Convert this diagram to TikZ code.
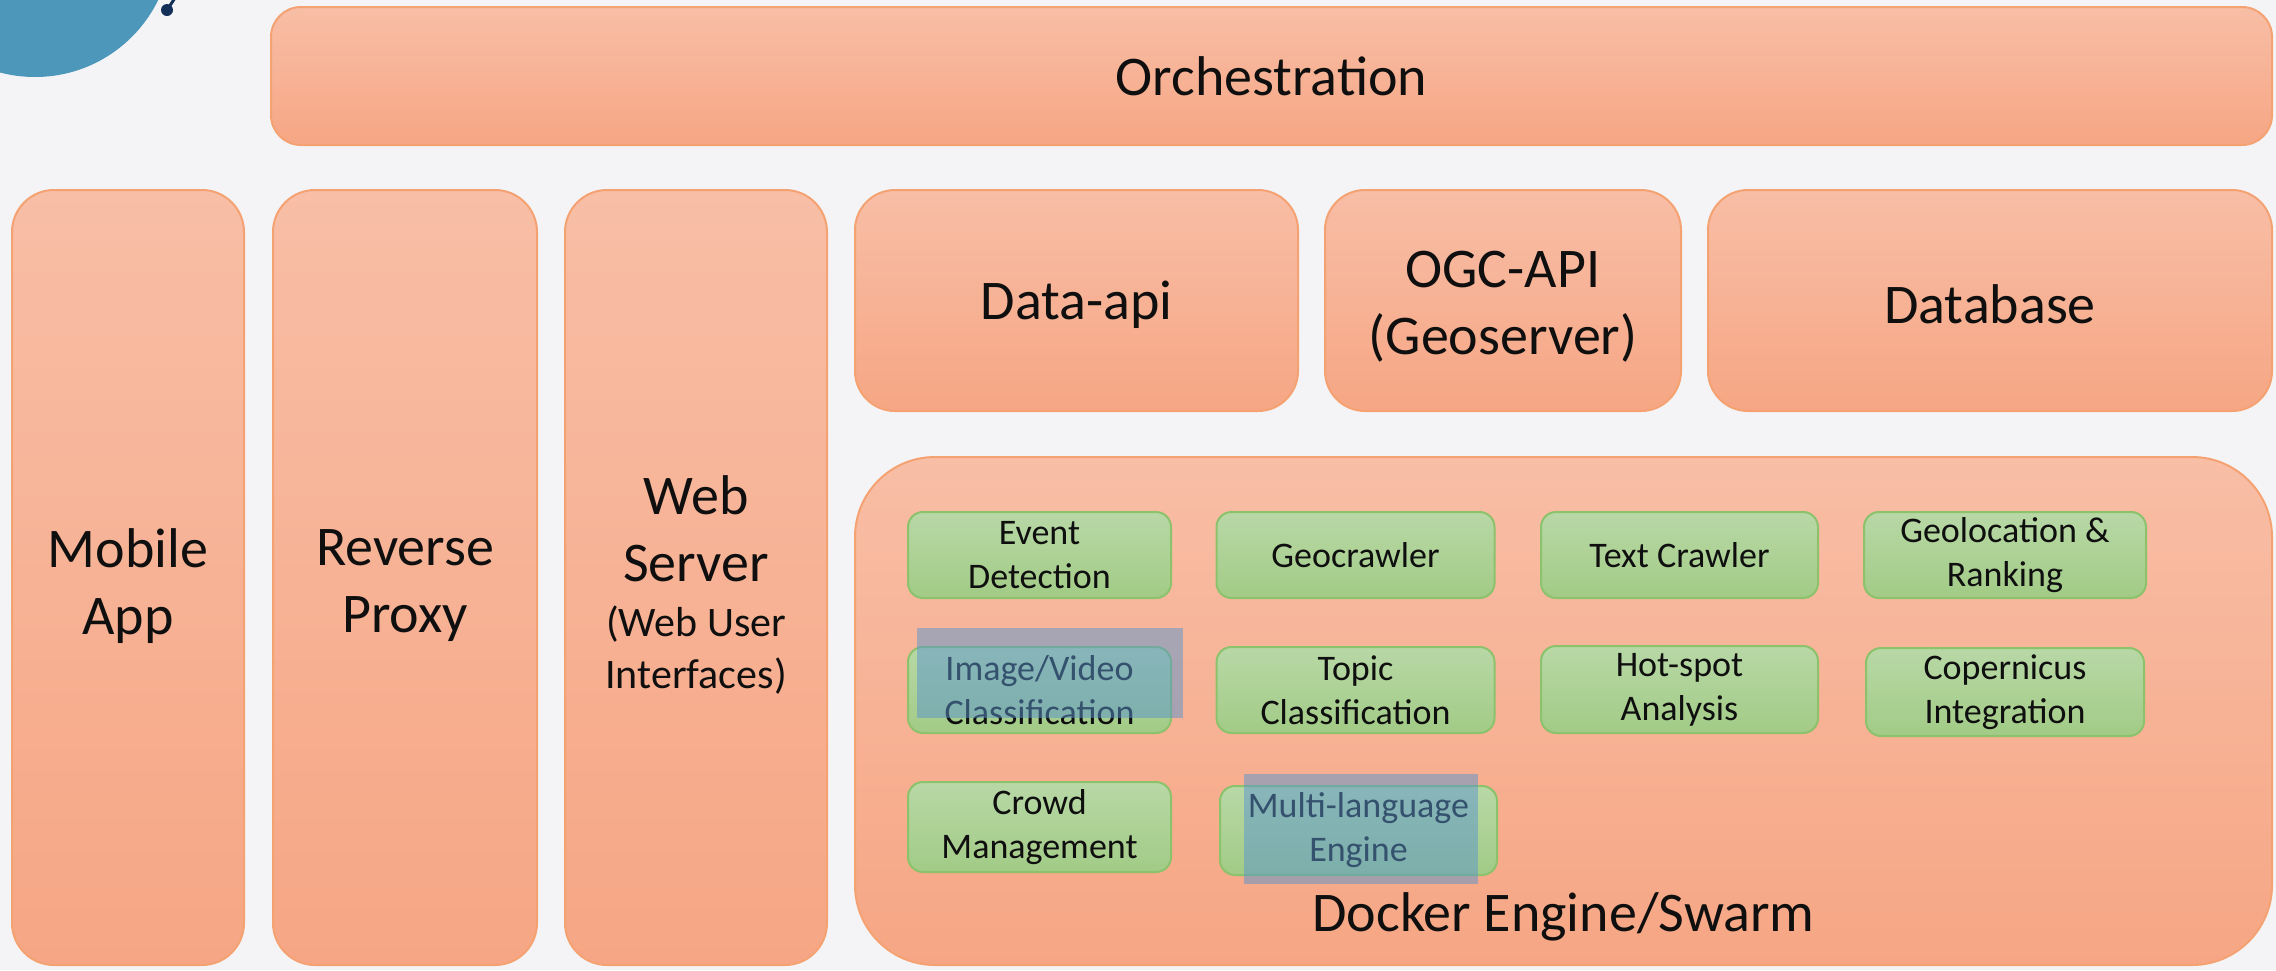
\documentclass[tikz,border=0pt]{standalone}
\usepackage{fontspec}
\setmainfont{Carlito}
\definecolor{bgc}{RGB}{244,244,247}
\definecolor{ortop}{RGB}{248,190,166}
\definecolor{orbot}{RGB}{246,166,132}
\definecolor{orline}{RGB}{245,162,115}
\definecolor{grtop}{RGB}{184,216,166}
\definecolor{grbot}{RGB}{162,203,134}
\definecolor{grline}{RGB}{140,194,108}
\definecolor{hilite}{RGB}{89,148,206}
\definecolor{circ}{RGB}{76,151,186}
\definecolor{navy}{RGB}{18,48,88}
\definecolor{txt}{RGB}{15,15,15}
\tikzset{
  obox/.style={draw=orline, line width=2pt, top color=ortop, bottom color=orbot,
    inner sep=0pt, outer sep=0pt, align=center, text=txt,
    font=\fontsize{56}{67}\selectfont},
  gbox/.style={draw=grline, line width=2pt, top color=grtop, bottom color=grbot,
    rounded corners=15pt, inner sep=0pt, outer sep=0pt, align=center, text=txt,
    font=\fontsize{36}{44}\selectfont},
  maintext/.style={inner sep=0pt, align=center, text=txt, font=\fontsize{56}{67}\selectfont},
  smalltext/.style={inner sep=0pt, align=center, text=txt, font=\fontsize{42}{52}\selectfont},
  hl/.style={fill=hilite, fill opacity=0.5, draw=none}
}
\begin{document}
\begin{tikzpicture}[x=1pt,y={(0pt,-1pt)}]
\useasboundingbox (0,0) rectangle (2276,970);
\clip (0,0) rectangle (2276,970);
\fill[bgc] (0,0) rectangle (2276,970);
% logo fragment
\fill[circ] (35,-60) circle (137);
\draw[navy, line width=3pt] (167,10) -- (175,-2);
\fill[navy] (167,10) circle (6);
% top bar
\node[obox, rounded corners=30pt, minimum width=2001pt, minimum height=138pt] (orch) at (1271.5,76) {Orchestration};
% tall columns
\node[obox, rounded corners=42pt, minimum width=232pt, minimum height=775pt] (mobile) at (128,577.5) {};
\node[maintext] (mobilet) at (128,586) {Mobile\\App};
\node[obox, rounded corners=42pt, minimum width=264pt, minimum height=775pt] (proxy) at (405,577.5) {};
\node[maintext] (proxyt) at (405,586) {Reverse\\Proxy};
\node[obox, rounded corners=42pt, minimum width=262pt, minimum height=775pt] (web) at (696,577.5) {};
\node[maintext] (webt1) at (696,529) {Web\\Server};
\node[smalltext] (webt2) at (696,650) {(Web User\\Interfaces)};
% service boxes
\node[obox, rounded corners=40pt, minimum width=443pt, minimum height=221pt] (dataapi) at (1076.5,300.5) {};
\node[maintext] (dataapit) at (1076.5,304.5) {Data-api};
\node[obox, rounded corners=40pt, minimum width=356pt, minimum height=221pt] (ogc) at (1503,300.5) {};
\node[maintext] (ogct) at (1503,306.5) {OGC-API\\(Geoserver)};
\node[obox, rounded corners=40pt, minimum width=564pt, minimum height=221pt] (db) at (1990,300.5) {};
\node[maintext] (dbt) at (1990,304.5) {Database};
% docker
\node[obox, rounded corners=80pt, minimum width=1417pt, minimum height=508pt] (docker) at (1563.5,711) {};
\node[maintext] (dockt) at (1563.5,917) {Docker Engine/Swarm};
% green modules
\node[gbox, minimum width=263pt, minimum height=86pt] (event) at (1039.5,555) {Event\\Detection};
\node[gbox, minimum width=278pt, minimum height=86pt] (geocr) at (1355.5,555) {Geocrawler};
\node[gbox, minimum width=277pt, minimum height=86pt] (textcr) at (1679.5,555) {Text Crawler};
\node[gbox, minimum width=282pt, minimum height=86pt] (geoloc) at (2005,555) {Geolocation \&\\Ranking};
\node[gbox, minimum width=263pt, minimum height=86pt] (imgvid) at (1039.5,690) {Image/Video\\Classification};
\node[gbox, minimum width=278pt, minimum height=86pt] (topic) at (1355.5,690) {Topic\\Classification};
\node[gbox, minimum width=277pt, minimum height=87pt] (hotspot) at (1679.5,689.5) {Hot-spot\\Analysis};
\node[gbox, minimum width=278pt, minimum height=88pt] (copern) at (2005,692) {Copernicus\\Integration};
\node[gbox, minimum width=263pt, minimum height=90pt] (crowd) at (1039.5,827) {Crowd\\Management};
\node[gbox, minimum width=277pt, minimum height=89pt] (multi) at (1358.5,830.5) {Multi-language\\Engine};
% highlight overlays
\fill[hl] (917,628) rectangle (1183,718);
\fill[hl] (1244,774) rectangle (1478,884);
\end{tikzpicture}
\end{document}
